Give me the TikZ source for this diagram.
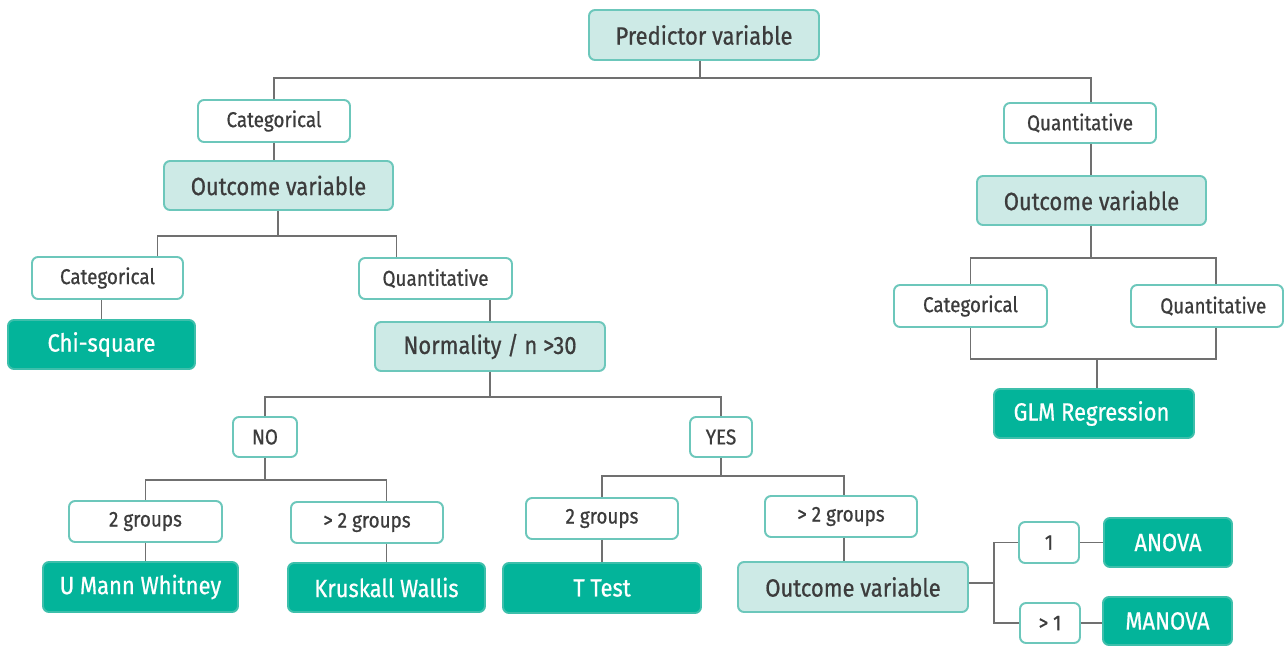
\documentclass[tikz,border=0pt]{standalone}
\usepackage{fontspec}
\setmainfont{Fira Sans}[FakeStretch=0.88, FakeBold=0.7]
\definecolor{lightf}{HTML}{CDEAE6}
\definecolor{bord}{HTML}{6CC7BB}
\definecolor{darkf}{HTML}{03B49A}
\definecolor{darkb}{HTML}{3DBFAB}
\definecolor{txt}{HTML}{3C3C3C}
\definecolor{linec}{HTML}{707070}
\tikzset{
  basebox/.style={rounded corners=0.12cm, line width=1.1pt, align=center, inner sep=0pt},
  ltbox/.style={basebox, draw=bord, fill=lightf, text=txt, font=\fontsize{14.2}{16}\selectfont},
  wtbox/.style={basebox, draw=bord, fill=white, text=txt, font=\fontsize{12.2}{14}\selectfont},
  dkbox/.style={basebox, draw=darkb, fill=darkf, text=white, font=\fontsize{14.2}{16}\selectfont},
  conn/.style={draw=linec, line width=1.1pt}
}
\begin{document}
\begin{tikzpicture}[x=0.02cm, y=-0.02cm]
\useasboundingbox (0,0) rectangle (1285,646);
% nodes
\node[ltbox, minimum width=4.6cm, minimum height=1.0cm] (pv) at (704,35) {Predictor variable};
\node[wtbox, minimum width=3.04cm, minimum height=0.84cm] (cat1) at (274,121) {Categorical};
\node[wtbox, minimum width=3.04cm, minimum height=0.80cm] (qua1) at (1080,123) {Quantitative};
\node[ltbox, minimum width=4.58cm, minimum height=0.98cm] (out1) at (278.5,185.5) {Outcome variable};
\node[ltbox, minimum width=4.58cm, minimum height=0.98cm] (out2) at (1091.5,200.5) {Outcome variable};
\node[wtbox, minimum width=3.02cm, minimum height=0.84cm] (cat2) at (107.5,278) {Categorical};
\node[wtbox, minimum width=3.06cm, minimum height=0.82cm] (qua2) at (435.5,278.5) {Quantitative};
\node[dkbox, minimum width=3.74cm, minimum height=0.98cm] (chi) at (101.5,344.5) {Chi-square};
\node[ltbox, minimum width=4.6cm, minimum height=0.98cm] (nor) at (490,346.5) {Normality / n >30};
\node[wtbox, minimum width=3.06cm, minimum height=0.84cm] (cat3) at (970.5,306) {Categorical};
\node[wtbox, minimum width=3.04cm, minimum height=0.84cm] (qua3) at (1207,306) {\hspace*{0.25cm}Quantitative};
\node[dkbox, minimum width=4.0cm, minimum height=0.98cm] (glm) at (1094,413.5) {GLM Regression\hspace*{0.1cm}};
\node[wtbox, minimum width=1.28cm, minimum height=0.80cm] (no) at (265,437) {NO};
\node[wtbox, minimum width=1.24cm, minimum height=0.80cm] (yes) at (721,437) {YES};
\node[wtbox, minimum width=3.06cm, minimum height=0.82cm] (g2a) at (145.5,521.5) {2 groups};
\node[wtbox, minimum width=3.04cm, minimum height=0.82cm] (g3a) at (367,522.5) {> 2 groups};
\node[dkbox, minimum width=3.9cm, minimum height=1.0cm] (umw) at (140.5,587) {U Mann Whitney};
\node[dkbox, minimum width=3.94cm, minimum height=0.98cm] (kw) at (386.5,587.5) {Kruskall Wallis};
\node[wtbox, minimum width=3.04cm, minimum height=0.82cm] (g2b) at (602,518.5) {2 groups};
\node[wtbox, minimum width=3.04cm, minimum height=0.82cm] (g3b) at (841,516.5) {> 2 groups};
\node[dkbox, minimum width=3.96cm, minimum height=1.0cm] (tt) at (602,588) {T Test};
\node[ltbox, minimum width=4.6cm, minimum height=1.0cm] (out3) at (853,587) {Outcome variable};
\node[wtbox, minimum width=1.2cm, minimum height=0.82cm] (one) at (1049,542.5) {1};
\node[wtbox, minimum width=1.2cm, minimum height=0.80cm] (gt1) at (1050,623) {> 1};
\node[dkbox, minimum width=2.56cm, minimum height=0.98cm] (anova) at (1168,542.5) {ANOVA};
\node[dkbox, minimum width=2.58cm, minimum height=0.96cm] (manova) at (1167.5,621) {MANOVA};
% junction coordinates
\coordinate (h1) at (700,78);
\coordinate (h2) at (278,236);
\coordinate (h3) at (490,397);
\coordinate (h4) at (265,480);
\coordinate (h5) at (721,476);
\coordinate (h6) at (1091,258);
\coordinate (h7) at (1097,359);
\coordinate (v1) at (994,583);
% connectors
\draw[conn] (h1 |- pv.south) -- (h1);
\draw[conn] (cat1.north) |- (h1) -| (qua1.north -| h6);
\draw[conn] (cat1.south) -- (cat1.south |- out1.north);
\draw[conn] (qua1.south -| h6) -- (h6 |- out2.north);
\draw[conn] (h2 |- out1.south) -- (h2);
\draw[conn] ([xshift=1cm]cat2.north) |- (h2) -| ([xshift=-0.78cm]qua2.north);
\draw[conn] (chi.north) -- (chi.north |- cat2.south);
\draw[conn] (nor.north) -- (nor.north |- qua2.south);
\draw[conn] (nor.south) -- (h3);
\draw[conn] (no.north) |- (h3) -| (yes.north);
\draw[conn] (no.south) -- (h4);
\draw[conn] (g2a.north) |- (h4) -| (kw.north |- g3a.north);
\draw[conn] (g2a.south) -- (g2a.south |- umw.north);
\draw[conn] (kw.north) -- (kw.north |- g3a.south);
\draw[conn] (yes.south) -- (h5);
\draw[conn] (g2b.north) |- (h5) -| ([xshift=0.06cm]g3b.north);
\draw[conn] (g2b.south) -- (g2b.south |- tt.north);
\draw[conn] ([xshift=0.06cm]g3b.south) -- ([xshift=0.06cm]g3b.south |- out3.north);
\draw[conn] (out3.east |- v1) -- (v1);
\draw[conn] (one.west) -| (v1) |- (gt1.west);
\draw[conn] (one.east) -- (anova.west |- one.east);
\draw[conn] (gt1.east) -- (manova.west |- gt1.east);
\draw[conn] (h6 |- out2.south) -- (h6);
\draw[conn] (cat3.north) |- (h6) -| ([xshift=0.18cm]qua3.north);
\draw[conn] (cat3.south) |- (h7) -| ([xshift=0.18cm]qua3.south);
\draw[conn] (h7) -- (h7 |- glm.north);
\end{tikzpicture}
\end{document}
